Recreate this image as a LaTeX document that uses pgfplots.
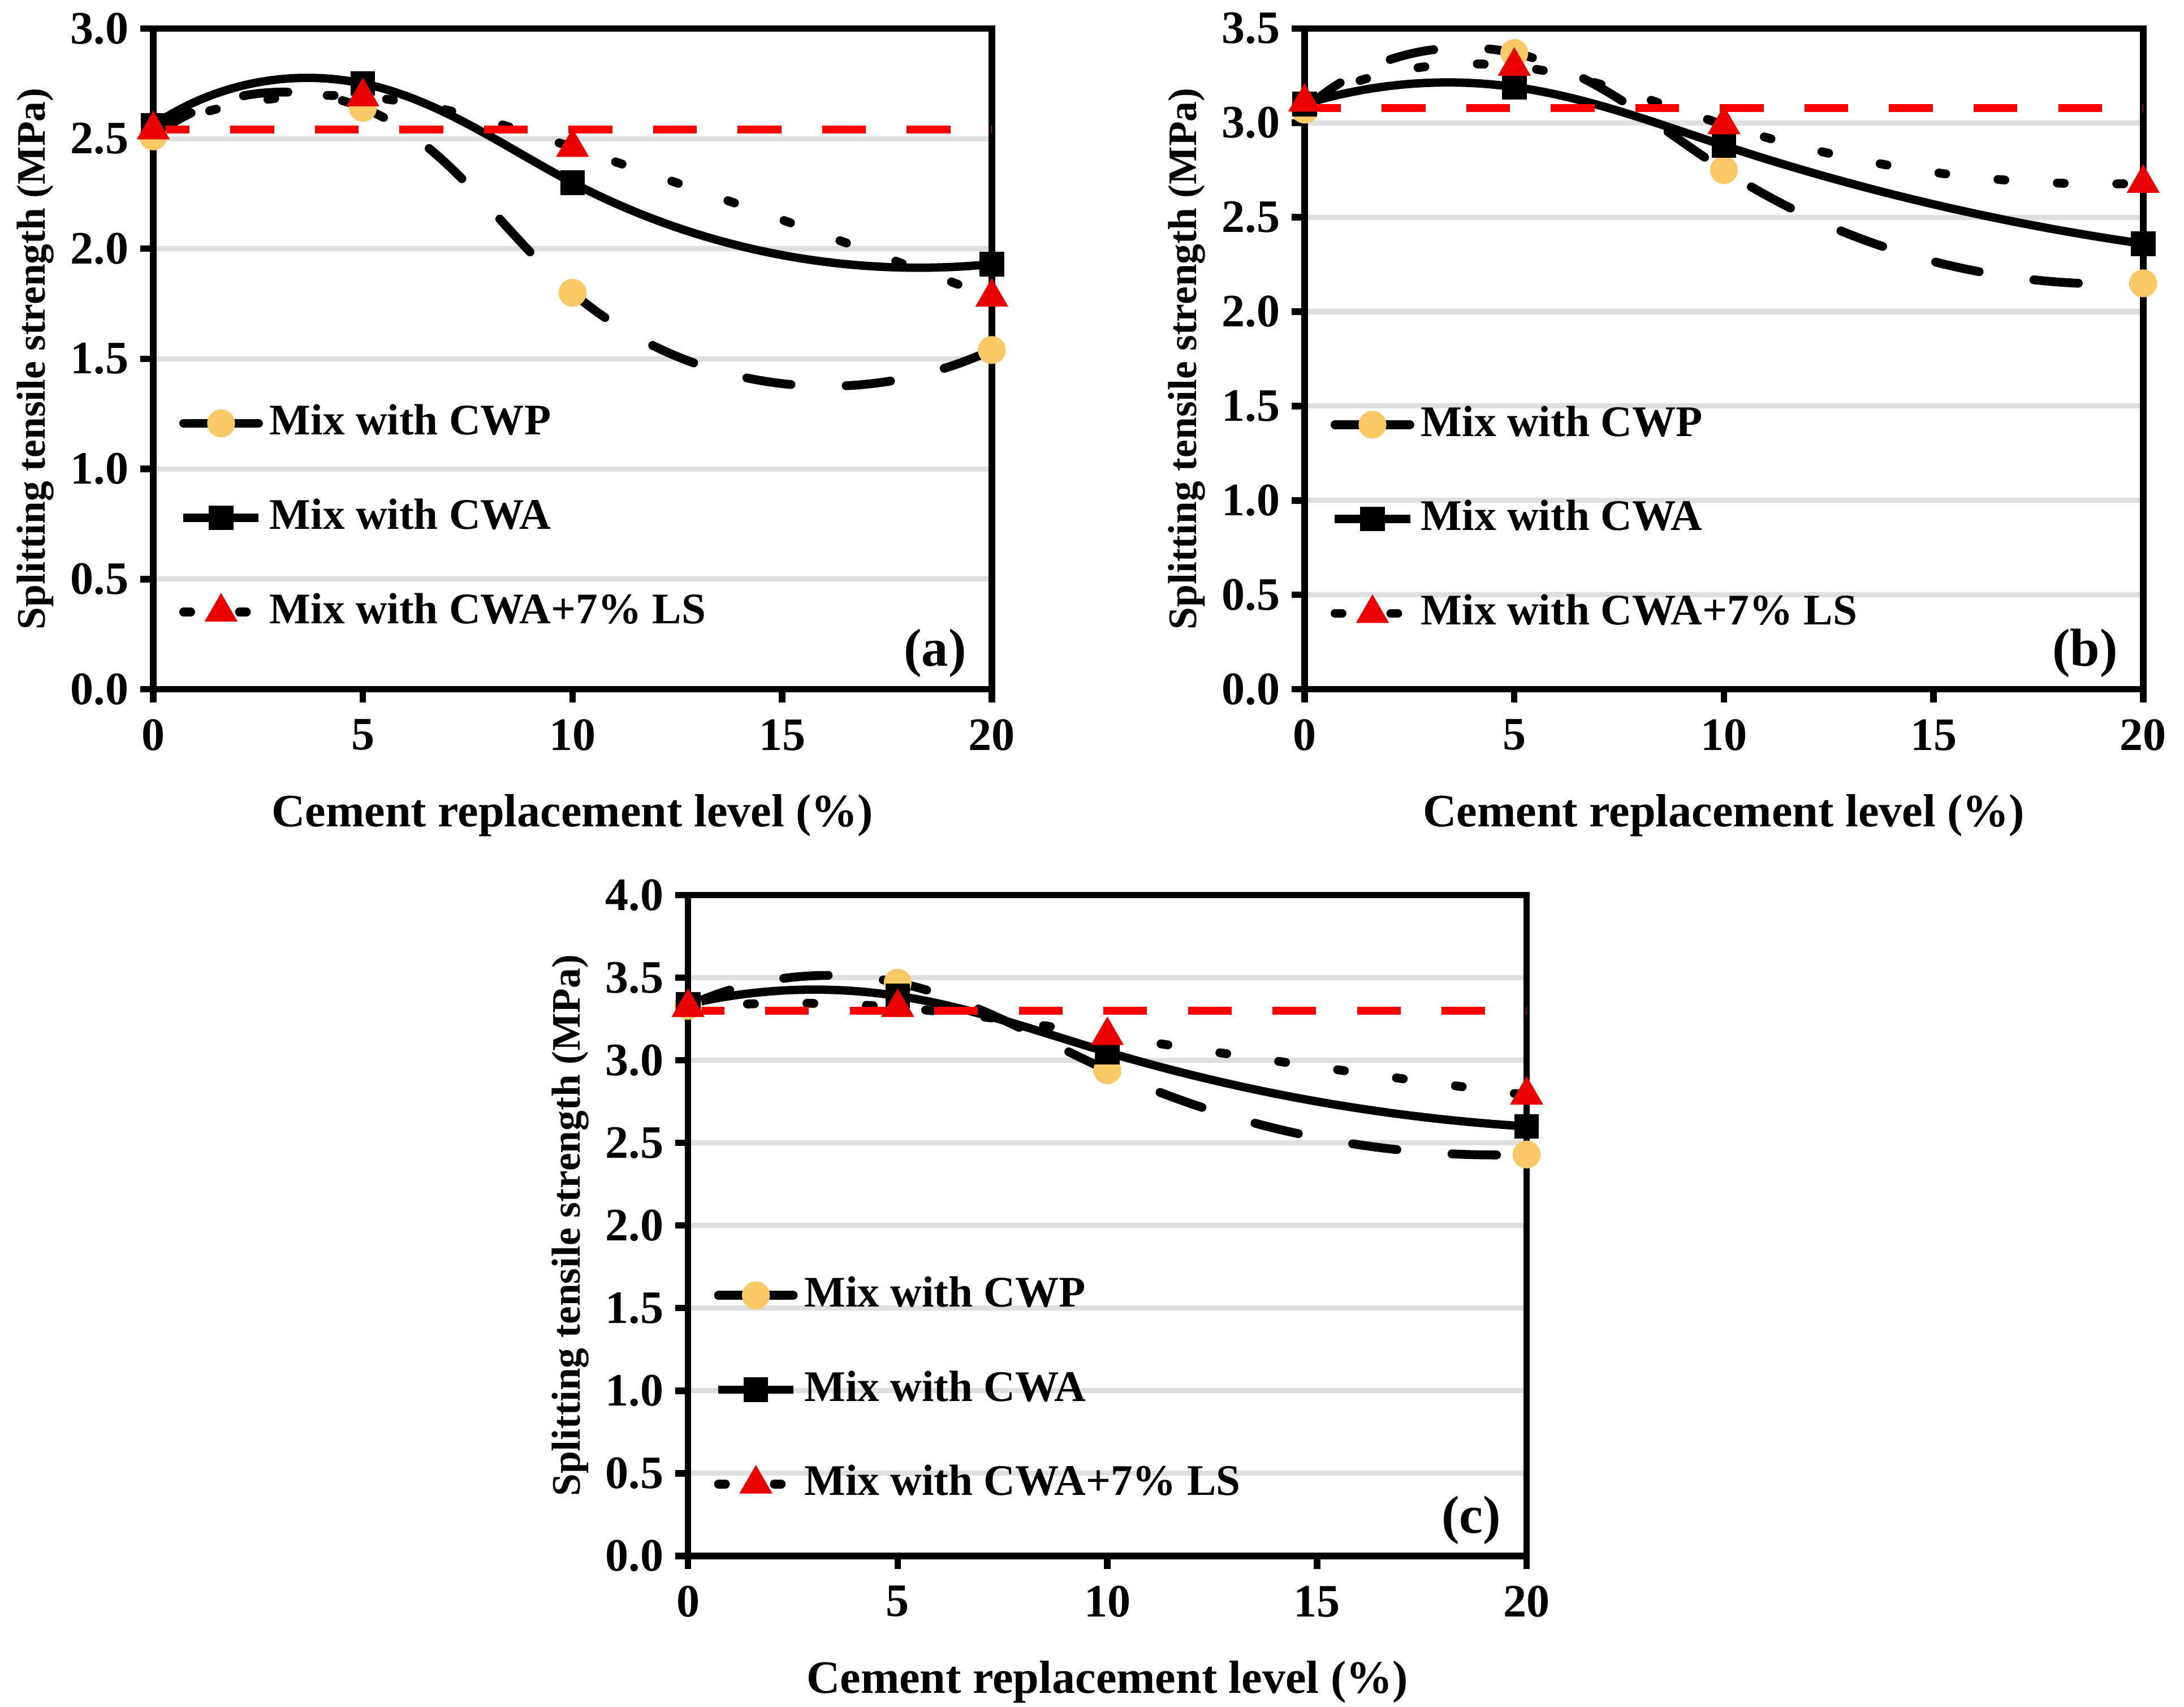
\documentclass[border=0pt]{standalone}
\usepackage{pgfplots}
\pgfplotsset{compat=1.18}
\usetikzlibrary{hobby}
\usepackage{fontspec}
\setmainfont{Liberation Serif}
\definecolor{cwpc}{RGB}{250,200,100}
\definecolor{lsc}{RGB}{235,0,0}
\definecolor{refred}{RGB}{255,0,0}
\definecolor{gridc}{RGB}{222,222,222}

\tikzset{plab/.style={anchor=base east, inner sep=0pt, xshift=-5.3pt, yshift=4.95pt, font=\bfseries\fontsize{11.5}{13}\selectfont}}

\pgfplotsset{
  panel/.style={
    scale only axis, width=180.5pt, height=142.2pt,
    xmin=0, xmax=20, xtick={0,5,10,15,20},
    ymin=0,
    clip=false,
    axis line style={black, line width=1.4pt},
    tick style={black, line width=1.4pt},
    tick align=outside, tick pos=left,
    major tick length=2.8pt,
    ymajorgrids, major grid style={gridc, line width=1.1pt},
    /pgf/number format/assume math mode=true,
    tick label style={font=\bfseries\fontsize{10}{12}\selectfont},
    yticklabel style={/pgf/number format/fixed, /pgf/number format/fixed zerofill, /pgf/number format/precision=1},
    xticklabel style={anchor=north, inner sep=0pt, yshift=-3.5pt},
    yticklabel style={anchor=east, inner sep=0pt, xshift=-2.3pt},
    xlabel={Cement replacement level (\%)},
    ylabel={Splitting tensile strength (MPa)},
    every axis x label/.style={at={(axis description cs:0.5,0)}, anchor=base, yshift=-29.6pt, font=\bfseries\fontsize{10}{12}\selectfont},
    every axis y label/.style={at={(axis description cs:0,0.5)}, xshift=-23.3pt, rotate=90, anchor=base, font=\bfseries\fontsize{8.7}{10}\selectfont},
    legend cell align=left,
    legend style={draw=none, fill=none, inner sep=0pt, row sep=11.4pt, column sep=1.45pt, anchor=north west,
      font=\bfseries\fontsize{9.4}{11}\selectfont, nodes={inner sep=0pt, text height=6.9pt, text depth=2pt}},
  },
  cwp/.style={black, line width=1.9pt, line cap=round, dash pattern=on 9.6pt off 11.9pt, hobby,
    mark=*, mark size=2.85pt, mark options={solid, fill=cwpc, draw=cwpc, line width=0.3pt},
    legend image code/.code={\path[draw=none,fill=none] (0pt,-4.45pt) rectangle (18pt,4.45pt);
      \draw[##1] (0.95pt,0pt) -- (7pt,0pt); \draw[##1] (11pt,0pt) -- (17.05pt,0pt);
      \draw[##1, sharp plot] plot coordinates {(9pt,0pt)};}},
  cwa/.style={black, line width=1.8pt, hobby,
    mark=square*, mark size=2.5pt, mark options={solid, fill=black, draw=black, line width=0.3pt},
    legend image code/.code={\path[draw=none,fill=none] (0pt,-4.45pt) rectangle (18pt,4.45pt);
      \draw[##1] (0.9pt,0pt) -- (17.1pt,0pt);
      \draw[##1, sharp plot] plot coordinates {(9pt,0pt)};}},
  lsp/.style={black, line width=1.9pt, line cap=round, dash pattern=on 1.5pt off 11.3pt, hobby,
    mark=triangle*, mark size=3.8pt, mark options={solid, fill=lsc, draw=lsc, line width=0.3pt},
    legend image code/.code={\path[draw=none,fill=none] (0pt,-4.45pt) rectangle (18pt,4.45pt);
      \draw[##1] (0.95pt,0pt) -- (2.55pt,0pt); \draw[##1] (12.95pt,0pt) -- (14.55pt,0pt);
      \draw[##1, sharp plot] plot coordinates {(9pt,0pt)};}},
  refl/.style={refred, line width=1.7pt, dash pattern=on 9.4pt off 8.8pt, dash phase=1.6pt, forget plot},
}

\begin{document}
\begin{tikzpicture}
\path[use as bounding box] (0,0) rectangle (470.12pt,367.26pt);

% (a)
\begin{axis}[panel, at={(32.99pt,218.93pt)}, anchor=south west,
  ymax=3, ytick={0,0.5,1,1.5,2,2.5,3},
  legend style={at={(axis description cs:0.0299,0.435)}}]
\addplot[cwp] coordinates {(0,2.51) (5,2.64) (10,1.80) (20,1.54)};
\addlegendentry{Mix with CWP}
\addplot[cwa] coordinates {(0,2.56) (5,2.75) (10,2.30) (20,1.93)};
\addlegendentry{Mix with CWA}
\addplot[lsp] coordinates {(0,2.54) (5,2.69) (10,2.46) (20,1.78)};
\addlegendentry{Mix with CWA+7\% LS}
\addplot[refl] coordinates {(0,2.54) (20,2.54)};
\node[plab] at (rel axis cs:1,0) {(a)};
\end{axis}

% (b)
\begin{axis}[panel, at={(280.83pt,218.93pt)}, anchor=south west,
  ymax=3.5, ytick={0,0.5,1,1.5,2,2.5,3,3.5},
  legend style={at={(axis description cs:0.0299,0.433)}}]
\addplot[cwp] coordinates {(0,3.07) (5,3.37) (10,2.75) (20,2.15)};
\addlegendentry{Mix with CWP}
\addplot[cwa] coordinates {(0,3.10) (5,3.19) (10,2.88) (20,2.36)};
\addlegendentry{Mix with CWA}
\addplot[lsp] coordinates {(0,3.11) (5,3.30) (10,2.99) (20,2.68)};
\addlegendentry{Mix with CWA+7\% LS}
\addplot[refl] coordinates {(0,3.08) (20,3.08)};
\node[plab] at (rel axis cs:1,0) {(b)};
\end{axis}

% (c)
\begin{axis}[panel, at={(148.11pt,32.41pt)}, anchor=south west,
  ymax=4, ytick={0,0.5,1,1.5,2,2.5,3,3.5,4},
  legend style={at={(axis description cs:0.0299,0.427)}}]
\addplot[cwp] coordinates {(0,3.33) (5,3.47) (10,2.94) (20,2.43)};
\addlegendentry{Mix with CWP}
\addplot[cwa] coordinates {(0,3.34) (5,3.39) (10,3.05) (20,2.60)};
\addlegendentry{Mix with CWA}
\addplot[lsp] coordinates {(0,3.32) (5,3.32) (10,3.15) (20,2.79)};
\addlegendentry{Mix with CWA+7\% LS}
\addplot[refl] coordinates {(0,3.30) (20,3.30)};
\node[plab] at (rel axis cs:1,0) {(c)};
\end{axis}
\end{tikzpicture}
\end{document}
